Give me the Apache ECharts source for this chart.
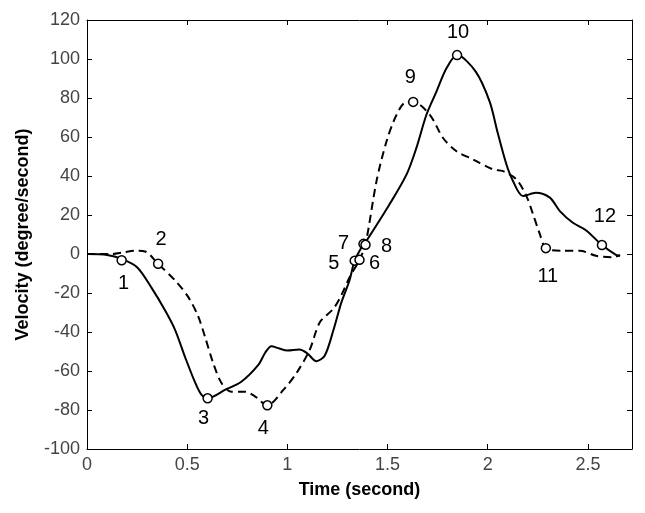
<!DOCTYPE html>
<html>
<head>
<meta charset="utf-8">
<script src="https://cdn.jsdelivr.net/npm/echarts@6/dist/echarts.min.js"></script>
<style>html,body{margin:0;padding:0;background:#fff;}#c{width:645px;height:513px;}</style>
</head>
<body>
<div id="c"></div>
<script>
// ---- data ----
const solidT = [0, 0.1, 0.173, 0.25, 0.32, 0.39, 0.44, 0.49, 0.54, 0.572, 0.602, 0.688, 0.77, 0.854, 0.89, 0.92, 0.96, 1.0, 1.06, 1.10, 1.145, 1.187, 1.23, 1.27, 1.31, 1.336, 1.38, 1.395, 1.51, 1.595, 1.644, 1.694, 1.744, 1.794, 1.847, 1.94, 2.01, 2.05, 2.093, 2.126, 2.176, 2.24, 2.31, 2.36, 2.425, 2.49, 2.57, 2.64, 2.66];
const solidV = [0, -0.5, -2.5, -6.8, -17, -29, -39, -53, -66, -72.3, -74, -69.7, -65.5, -57, -50.5, -47.3, -48.5, -49.5, -49, -51, -55, -52, -39, -24.7, -13.6, -3.4, 5, 6.8, 25.5, 40.8, 54.4, 71.4, 83.3, 95.2, 102, 93.5, 78, 62, 46, 37.4, 29.7, 31.4, 28.9, 22, 16, 12.2, 4.6, -0.4, -1];
const dashedT = [0, 0.12, 0.18, 0.24, 0.29, 0.355, 0.44, 0.505, 0.555, 0.589, 0.63, 0.672, 0.72, 0.788, 0.838, 0.9, 0.98, 1.046, 1.112, 1.162, 1.23, 1.27, 1.31, 1.36, 1.39, 1.445, 1.495, 1.545, 1.594, 1.628, 1.711, 1.777, 1.844, 1.927, 2.026, 2.076, 2.143, 2.193, 2.226, 2.26, 2.29, 2.376, 2.46, 2.54, 2.625, 2.66];
const dashedV = [0, 0, 0.8, 1.7, 1.3, -5.1, -13.6, -22, -32, -42.5, -56, -66.3, -70.6, -70.6, -73, -77.6, -69.7, -61, -49, -35, -28, -21, -12, -3, 5, 37.4, 57.8, 71.4, 78, 78, 71.4, 59.5, 52.7, 48.5, 43.4, 42.5, 38.3, 29.7, 20.4, 10.2, 3, 1.7, 1.7, -0.9, -1.7, -0.4];
const markerT = [0.173, 0.355, 0.602, 0.9, 1.336, 1.36, 1.38, 1.39, 1.628, 1.847, 2.29, 2.57];
const markerV = [-3.2, -5, -74, -77.6, -3.4, -3, 5.2, 4.7, 78, 102, 3, 4.6];
const markerLabels = ['1', '2', '3', '4', '5', '6', '7', '8', '9', '10', '11', '12'];
const xTickLabels = ['0', '0.5', '1', '1.5', '2', '2.5'];
const yTickLabels = ['-100', '-80', '-60', '-40', '-20', '0', '20', '40', '60', '80', '100', '120'];

// ---- styles ----
const labelOffsets = [[2, 23], [3, -24], [-4, 20], [-4, 23], [-21, 3], [15, 4], [-20, 0], [21, 2], [-3, -24], [1, -23], [2, 28], [3, -29]];
const FONT = 'Liberation Sans, Arial, sans-serif';

const zip = (a, b) => a.map((v, i) => [v, b[i]]);

const chart = echarts.init(document.getElementById('c'), null, {renderer: 'canvas'});

const axisCommon = {
  axisLine: {show: true, onZero: false, lineStyle: {color: '#000', width: 1}},
  axisTick: {show: true, inside: true, length: 5, lineStyle: {color: '#000', width: 1}},
  splitLine: {show: false}
};

const xFmt = v => {
  const k = Math.round(v / 0.5);
  return Math.abs(v - k * 0.5) < 1e-6 ? xTickLabels[k] : '';
};
const yFmt = v => {
  const k = Math.round((v + 100) / 20);
  return Math.abs(v + 100 - k * 20) < 1e-6 ? yTickLabels[k] : '';
};

const option = {
  animation: false,
  backgroundColor: '#fff',
  grid: {left: 87, right: 13, top: 20, bottom: 64, containLabel: false},
  xAxis: [
    Object.assign({
      type: 'value', position: 'bottom', min: 0, max: 2.72, interval: 0.5,
      name: 'Time (second)', nameLocation: 'middle', nameGap: 32,
      nameTextStyle: {fontFamily: FONT, fontWeight: 'bold', fontSize: 18, color: '#000'},
      axisLabel: {formatter: xFmt, fontFamily: FONT, fontSize: 18, color: '#444', margin: 7, showMaxLabel: false}
    }, axisCommon),
    Object.assign({
      type: 'value', position: 'top', min: 0, max: 2.72, interval: 0.5,
      axisLabel: {show: false}
    }, axisCommon)
  ],
  yAxis: [
    Object.assign({
      type: 'value', position: 'left', min: -100, max: 120, interval: 20,
      name: 'Velocity (degree/second)', nameLocation: 'middle', nameGap: 55, nameRotate: 90,
      nameTextStyle: {fontFamily: FONT, fontWeight: 'bold', fontSize: 18, color: '#000'},
      axisLabel: {formatter: yFmt, fontFamily: FONT, fontSize: 18, color: '#444', margin: 7}
    }, axisCommon),
    Object.assign({
      type: 'value', position: 'right', min: -100, max: 120, interval: 20,
      axisLabel: {show: false}
    }, axisCommon)
  ],
  series: [
    {
      type: 'line', data: zip(solidT, solidV), smooth: 0.3, showSymbol: false,
      lineStyle: {color: '#000', width: 2}, z: 3
    },
    {
      type: 'line', data: zip(dashedT, dashedV), smooth: 0.3, showSymbol: false,
      lineStyle: {color: '#000', width: 2, type: [8, 5]}, z: 3
    },
    {
      type: 'scatter', symbol: 'circle', symbolSize: 9, z: 4,
      itemStyle: {color: '#fff', borderColor: '#000', borderWidth: 1.5, opacity: 1},
      data: markerT.map((t, i) => ({
        value: [t, markerV[i]],
        label: {
          show: true, position: 'inside', formatter: markerLabels[i],
          offset: labelOffsets[i], fontFamily: FONT, fontSize: 20, color: '#000'
        }
      }))
    }
  ]
};
chart.setOption(option);
</script>
</body>
</html>
